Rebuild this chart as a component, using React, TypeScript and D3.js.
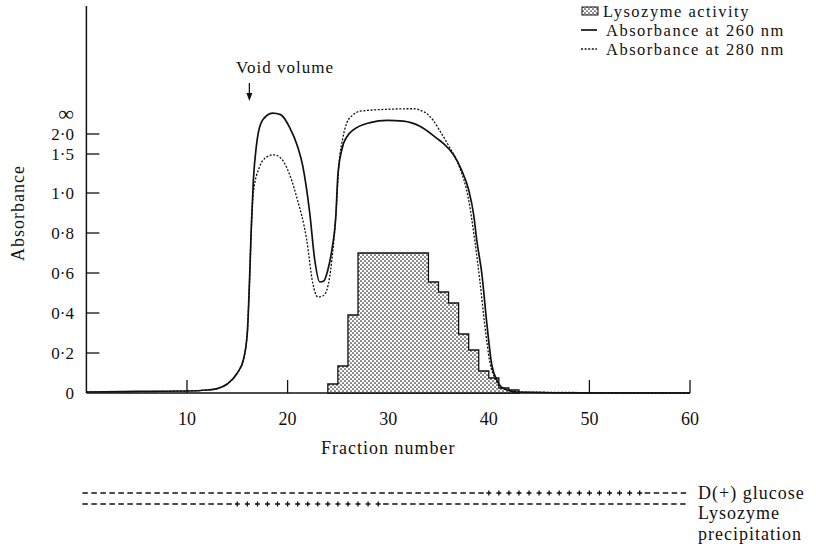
import React from "react";
import * as d3 from "d3";

// value used for the "∞" mark on the absorbance axis
const INF = 3;

const yTickValues = [0, 0.2, 0.4, 0.6, 0.8, 1.0, 1.5, 2.0, INF];
const yTickLabels = ["0", "0·2", "0·4", "0·6", "0·8", "1·0", "1·5", "2·0", "∞"];
const xTickValues = [10, 20, 30, 40, 50, 60];

// absorbance at 260 nm (solid)
const fraction260 = [0, 5, 10, 12, 13, 14, 15, 15.6, 16, 16.2, 16.4, 16.6, 16.9, 17.3, 18, 18.5, 19.3, 20.2, 21, 21.5, 22.2, 22.7, 23.2, 23.6, 24.0, 24.4, 24.8, 25.0, 25.4, 26, 26.5, 28.2, 29.9, 31.5, 33.2, 34.9, 35.5, 36.5, 37.3, 38, 38.5, 38.8, 39.3, 39.8, 40.3, 40.8, 41.4, 42.8, 50, 60];
const abs260 = [0.005, 0.008, 0.01, 0.015, 0.022, 0.045, 0.1, 0.165, 0.305, 0.54, 0.84, 1.17, 1.71, 2.5, 3.0, 3.1, 3.02, 2.35, 1.68, 1.35, 0.9, 0.665, 0.555, 0.56, 0.615, 0.715, 0.89, 1.23, 1.62, 1.97, 2.2, 2.6, 2.72, 2.68, 2.4, 1.88, 1.76, 1.49, 1.29, 1.04, 0.89, 0.765, 0.6, 0.35, 0.14, 0.065, 0.025, 0.005, 0, 0];

// absorbance at 280 nm (dotted)
const fraction280 = [0, 10, 12, 13, 14, 15, 15.6, 16, 16.2, 16.4, 16.6, 17.2, 17.8, 18.6, 19.3, 19.9, 20.9, 21.9, 22.5, 23.0, 23.5, 23.9, 24.4, 24.8, 25.1, 25.5, 25.9, 26.5, 27.2, 29.9, 32.5, 33.2, 34, 34.5, 35.1, 36, 37, 38, 38.6, 39.1, 39.6, 40.1, 40.7, 41.5, 43, 60];
const abs280 = [0.005, 0.01, 0.015, 0.022, 0.045, 0.1, 0.165, 0.305, 0.54, 0.825, 1.01, 1.33, 1.45, 1.49, 1.45, 1.33, 0.98, 0.765, 0.55, 0.48, 0.485, 0.515, 0.665, 0.89, 1.36, 1.91, 2.6, 3.0, 3.2, 3.3, 3.33, 3.25, 3.0, 2.7, 2.2, 1.71, 1.36, 0.965, 0.765, 0.565, 0.34, 0.155, 0.065, 0.02, 0.005, 0];

// lysozyme activity per fraction (histogram)
const activityFraction = [24, 25, 26, 27, 28, 29, 30, 31, 32, 33, 34, 35, 36, 37, 38, 39, 40, 41, 42];
const activity = [0.045, 0.135, 0.39, 0.7, 0.7, 0.7, 0.7, 0.7, 0.7, 0.7, 0.555, 0.505, 0.45, 0.295, 0.215, 0.11, 0.075, 0.025, 0.015];

// bottom bars: fraction ranges marked with crosses
const glucoseCross = [40, 55];
const precipitationCross = [15, 29];
const barRange = [-0.4, 59.8];

const font = "'Liberation Serif', 'Times New Roman', serif";

const App = () => {
  const x = d3.scaleLinear().domain([0, 60]).range([86.4, 690]);
  const y = d3.scaleLinear().domain([0, 1, 1.5, 2, INF]).range([393, 193, 154, 134, 115]);

  const line = d3
    .line<[number, number]>()
    .x((d) => x(d[0]))
    .y((d) => y(d[1]))
    .curve(d3.curveMonotoneX);

  const pts260 = fraction260.map((f, i) => [f, abs260[i]] as [number, number]);
  const pts280 = fraction280.map((f, i) => [f, abs280[i]] as [number, number]);

  const histPts = activityFraction.map((f, i) => [f, activity[i]] as [number, number]);
  histPts.push([activityFraction[activityFraction.length - 1] + 1, activity[activity.length - 1]]);
  const area = d3
    .area<[number, number]>()
    .x((d) => x(d[0]))
    .y0(y(0))
    .y1((d) => y(d[1]))
    .curve(d3.curveStepAfter);

  const bar = (yPos: number, cross: number[], key: string) => {
    const marks = d3.range(cross[0], cross[1] + 1);
    return (
      <g key={key} stroke="#111" strokeWidth={1.3}>
        <line x1={x(barRange[0])} x2={x(cross[0]) - 5} y1={yPos} y2={yPos} strokeDasharray="5.5,3.5" />
        <line x1={x(cross[1]) + 5} x2={x(barRange[1])} y1={yPos} y2={yPos} strokeDasharray="5.5,3.5" />
        {marks.map((m) => (
          <path key={m} d={`M${x(m) - 2.5},${yPos}H${x(m) + 2.5}M${x(m)},${yPos - 2.5}V${yPos + 2.5}`} />
        ))}
      </g>
    );
  };

  return (
    <div style={{ position: "absolute", left: 0, top: 0 }}>
      <svg width={816} height={544} style={{ display: "block", background: "#fff" }} fontFamily={font}>
        <defs>
          <pattern id="stipple" width={4} height={4} patternUnits="userSpaceOnUse">
            <rect width={4} height={4} fill="#fff" />
            <circle cx={1} cy={1} r={0.85} fill="#222" />
            <circle cx={3} cy={3} r={0.85} fill="#222" />
          </pattern>
        </defs>

        {/* axes */}
        <line x1={x(0)} x2={x(0)} y1={6} y2={y(0)} stroke="#111" strokeWidth={1.5} />
        <line x1={x(0)} x2={x(60)} y1={y(0)} y2={y(0)} stroke="#111" strokeWidth={1.5} />
        {yTickValues.map((v, i) => (
          <g key={"y" + i}>
            {v > 0 && v < INF && (
              <line x1={x(0)} x2={x(0) + 13} y1={y(v)} y2={y(v)} stroke="#111" strokeWidth={1.3} />
            )}
            <text
              x={74}
              y={v === INF ? y(v) - 2 : y(v)}
              dy="0.35em"
              textAnchor="end"
              fontSize={v === INF ? 22 : 17}
              fill="#111"
            >
              {yTickLabels[i]}
            </text>
          </g>
        ))}
        {xTickValues.map((t) => (
          <g key={"x" + t}>
            <line x1={x(t)} x2={x(t)} y1={y(0)} y2={y(0) - 13} stroke="#111" strokeWidth={1.3} />
            <text x={x(t)} y={425} textAnchor="middle" fontSize={18} fill="#111">
              {t}
            </text>
          </g>
        ))}

        {/* histogram */}
        <path d={area(histPts) || ""} fill="url(#stipple)" stroke="#111" strokeWidth={1.3} />

        {/* curves */}
        <path d={line(pts280) || ""} fill="none" stroke="#111" strokeWidth={1.3} strokeDasharray="2,1.6" />
        <path d={line(pts260) || ""} fill="none" stroke="#111" strokeWidth={1.7} />

        {/* axis titles */}
        <text x={x(30)} y={454} textAnchor="middle" fontSize={18} letterSpacing={1} fill="#111">
          Fraction number
        </text>
        <text transform="translate(24,213) rotate(-90)" textAnchor="middle" fontSize={18} letterSpacing={1} fill="#111">
          Absorbance
        </text>

        {/* void volume marker */}
        <text x={236} y={73} fontSize={17} letterSpacing={1} fill="#111">
          Void volume
        </text>
        <line x1={x(16.2)} x2={x(16.2)} y1={83} y2={95} stroke="#111" strokeWidth={1.3} />
        <path d={`M${x(16.2) - 3},${93}L${x(16.2) + 3},${93}L${x(16.2)},${101}Z`} fill="#111" />

        {/* legend */}
        <g fontSize={16.5} letterSpacing={1.5} fill="#111">
          <rect x={582} y={7} width={16} height={8} fill="url(#stipple)" stroke="#111" strokeWidth={1} />
          <text x={603} y={11} dy="0.35em">
            Lysozyme activity
          </text>
          <line x1={581} x2={597} y1={30} y2={30} stroke="#111" strokeWidth={1.7} />
          <text x={606} y={30} dy="0.35em">
            Absorbance at 260 nm
          </text>
          <line x1={581} x2={597} y1={49} y2={49} stroke="#111" strokeWidth={1.3} strokeDasharray="2,1.6" />
          <text x={606} y={49} dy="0.35em">
            Absorbance at 280 nm
          </text>
        </g>

        {/* bottom bars */}
        {bar(493, glucoseCross, "glucose")}
        {bar(504, precipitationCross, "precip")}
        <g fontSize={18} letterSpacing={1} fill="#111">
          <text x={698} y={493} dy="0.35em">
            D(+) glucose
          </text>
          <text x={698} y={513} dy="0.35em">
            Lysozyme
          </text>
          <text x={698} y={534} dy="0.35em">
            precipitation
          </text>
        </g>
      </svg>
    </div>
  );
};

export default App;
